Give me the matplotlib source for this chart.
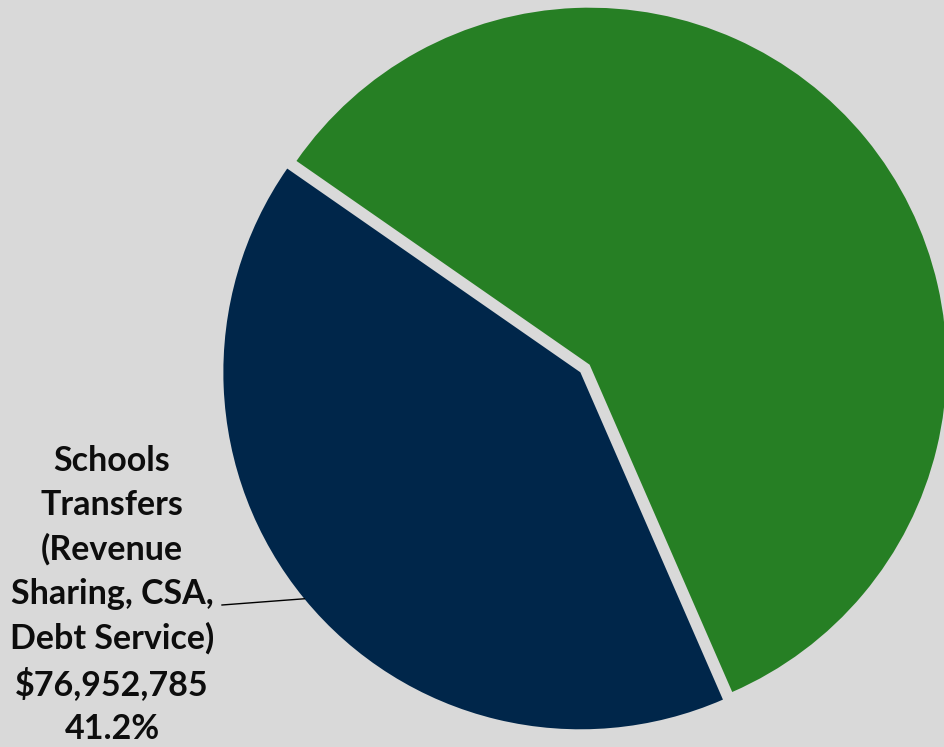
import numpy as np
import matplotlib.pyplot as plt

# budget split: schools transfers vs everything else
labels = ['Schools\nTransfers\n(Revenue\nSharing, CSA,\nDebt Service)', 'Other']
values = [76952785, 109800000]
colors = ['#00264a', '#267f24']
bg = '#d9d9d9'

fig = plt.figure(figsize=(9.45, 7.47), dpi=100, facecolor=bg)
ax = fig.add_axes([0, 0, 1, 1])
ax.set_facecolor(bg)

total = sum(values)
# explode is in data units here (pixels), since radius is in pixels
wedges, _ = ax.pie(values, colors=colors, startangle=145.2, counterclock=True,
                   explode=[6, 6], radius=357, center=(585, 378.5),
                   wedgeprops=dict(linewidth=0), frame=True)

ax.set_xlim(0, 945)
ax.set_ylim(0, 747)
ax.set_aspect('equal')
ax.axis('off')

# label for the schools slice with a leader line to the wedge edge
w = wedges[0]
mid = np.deg2rad((w.theta1 + w.theta2) / 2)
cx, cy = w.center
ex = cx + w.r * np.cos(mid)
ey = cy + w.r * np.sin(mid)
pct = values[0] / total * 100
txt = labels[0] + '\n${:,}\n{:.1f}%'.format(values[0], pct)
ax.text(112, 152, txt, ha='center', va='center', fontsize=24.5, fontweight='bold',
        family='Lato', color='#0d0d0d', linespacing=1.46)
ax.plot([222, ex], [142, ey], color='black', lw=1)

fig.savefig('out.png', dpi=100, facecolor=bg)
